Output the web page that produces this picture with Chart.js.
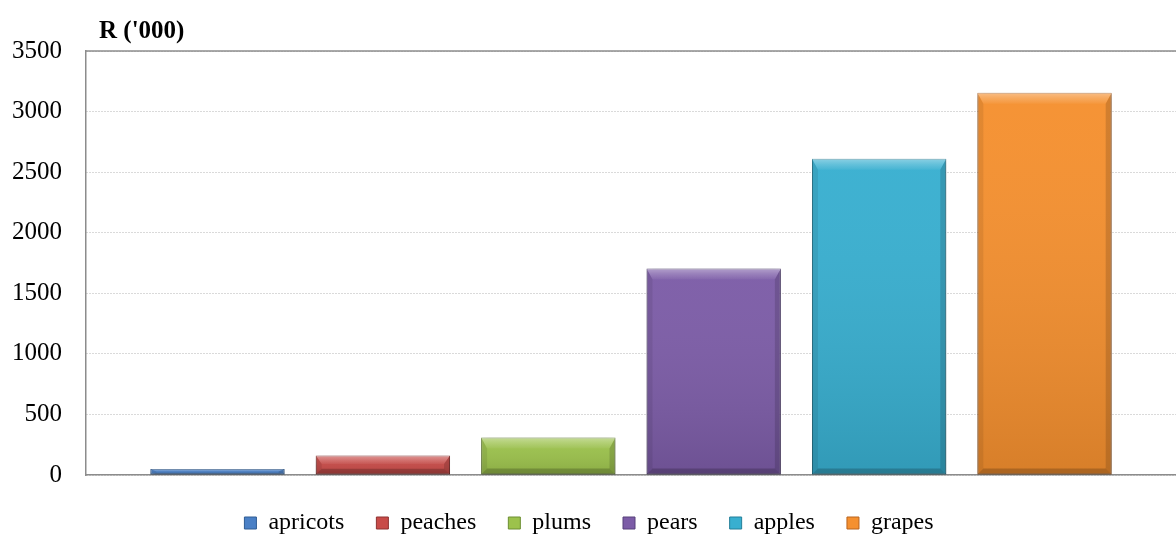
<!DOCTYPE html>
<html>
<head>
<meta charset="utf-8">
<script src="https://cdn.jsdelivr.net/npm/chart.js@4.4.1/dist/chart.umd.min.js"></script>
<style>
  html, body { margin: 0; padding: 0; background: #ffffff; }
  #wrap { width: 1176px; height: 535px; position: relative; }
</style>
</head>
<body>
<div id="wrap"><canvas id="c" width="1176" height="535"></canvas></div>
<script>
// Fruit sales, R thousand
const fruits = ['apricots', 'peaches', 'plums', 'pears', 'apples', 'grapes'];
const values = [50, 160, 310, 1705, 2610, 3155];
const fruitColors = ['#4A80C6', '#C84B48', '#9CC24C', '#7C5CA7', '#38AFD0', '#F5902F'];
const edgeColors  = ['#2F5C94', '#8E3331', '#6D8E32', '#56407A', '#237F99', '#B9641E'];
const yTicks = [0, 500, 1000, 1500, 2000, 2500, 3000, 3500];

const serif = '"Liberation Serif", "Times New Roman", serif';

// One category, one dataset per fruit (clustered bars with a legend entry each)
const datasets = fruits.map((name, i) => ({
  label: name,
  data: [values[i]],
  backgroundColor: fruitColors[i],
  borderColor: edgeColors[i],
  borderWidth: 1,
  borderSkipped: false
}));

// Soft drop shadow under the bars
const barShadow = {
  id: 'barShadow',
  beforeDatasetsDraw(chart) {
    const ctx = chart.ctx;
    ctx.save();
    ctx.shadowColor = 'rgba(0,0,0,0.35)';
    ctx.shadowBlur = 7;
    ctx.shadowOffsetX = 0;
    ctx.shadowOffsetY = 1;
  },
  afterDatasetsDraw(chart) {
    chart.ctx.restore();
  }
};

// Bevelled look on every bar: light top edge, darker sides and bottom, vertical shading
const barBevel = {
  id: 'barBevel',
  afterDatasetsDraw(chart) {
    const ctx = chart.ctx;
    chart.data.datasets.forEach((ds, di) => {
      const meta = chart.getDatasetMeta(di);
      meta.data.forEach(bar => {
        const w = bar.width;
        const l = bar.x - w / 2, r = bar.x + w / 2;
        const t = Math.min(bar.y, bar.base), b = Math.max(bar.y, bar.base);
        const h = b - t;
        const st = Math.min(11, h * 0.45), sb = Math.min(6, h * 0.3), ss = Math.min(6, w * 0.1);
        ctx.save();
        // overall vertical shading
        const g = ctx.createLinearGradient(0, t, 0, b);
        g.addColorStop(0, 'rgba(255,255,255,0.03)');
        g.addColorStop(1, 'rgba(0,0,0,0.12)');
        ctx.fillStyle = g;
        ctx.fillRect(l, t, w, h);
        const poly = (pts, fill) => {
          ctx.beginPath();
          ctx.moveTo(pts[0][0], pts[0][1]);
          for (let k = 1; k < pts.length; k++) ctx.lineTo(pts[k][0], pts[k][1]);
          ctx.closePath();
          ctx.fillStyle = fill;
          ctx.fill();
        };
        // top bevel
        const gt = ctx.createLinearGradient(0, t, 0, t + st);
        gt.addColorStop(0, 'rgba(255,255,255,0.40)');
        gt.addColorStop(0.5, 'rgba(255,255,255,0.20)');
        gt.addColorStop(1, 'rgba(255,255,255,0.04)');
        poly([[l, t], [r, t], [r - ss, t + st], [l + ss, t + st]], gt);
        // left / right bevels
        poly([[l, t], [l + ss, t + st], [l + ss, b - sb], [l, b]], 'rgba(0,0,0,0.08)');
        poly([[r, t], [r - ss, t + st], [r - ss, b - sb], [r, b]], 'rgba(0,0,0,0.14)');
        // bottom bevel
        poly([[l, b], [r, b], [r - ss, b - sb], [l + ss, b - sb]], 'rgba(0,0,0,0.20)');
        ctx.restore();
      });
    });
  }
};

// Frame line along the top of the plot area and the unit label above the value axis
const frame = {
  id: 'frame',
  afterDraw(chart) {
    const { ctx, chartArea: a } = chart;
    ctx.save();
    ctx.strokeStyle = '#8C8C8C';
    ctx.lineWidth = 1.5;
    ctx.beginPath();
    ctx.moveTo(a.left, a.top);
    ctx.lineTo(a.right, a.top);
    ctx.stroke();
    ctx.fillStyle = '#000000';
    ctx.font = 'bold 25px ' + serif;
    ctx.textAlign = 'left';
    ctx.textBaseline = 'alphabetic';
    ctx.fillText("R ('000)", a.left + 13, a.top - 13);
    ctx.restore();
  }
};

new Chart(document.getElementById('c'), {
  type: 'bar',
  data: { labels: [''], datasets },
  plugins: [barShadow, barBevel, frame],
  options: {
    responsive: false,
    animation: false,
    layout: { padding: { top: 51, right: -2, left: 0, bottom: -10 } },
    datasets: {
      bar: { categoryPercentage: 0.9105, barPercentage: 0.812 }
    },
    scales: {
      x: {
        afterFit(scale) { scale.height = 4; },
        grid: { display: false },
        border: { display: true, color: '#8C8C8C', width: 1.5 },
        ticks: { display: false }
      },
      y: {
        min: 0,
        max: 3500,
        afterFit(scale) { scale.width = 86; },
        afterBuildTicks(scale) { scale.ticks = yTicks.map(v => ({ value: v })); },
        grid: { color: '#B4B4B4', lineWidth: 1, drawTicks: false },
        border: { display: true, color: '#8C8C8C', width: 1.5, dash: [1, 2] },
        ticks: {
          color: '#000000',
          padding: 24,
          font: { family: serif, size: 25 },
          callback: v => String(v)
        }
      }
    },
    plugins: {
      legend: {
        position: 'bottom',
        labels: {
          color: '#000000',
          font: { family: serif, size: 24 },
          boxWidth: 12,
          boxHeight: 12,
          padding: 32
        }
      },
      tooltip: { enabled: false }
    }
  }
});
</script>
</body>
</html>
